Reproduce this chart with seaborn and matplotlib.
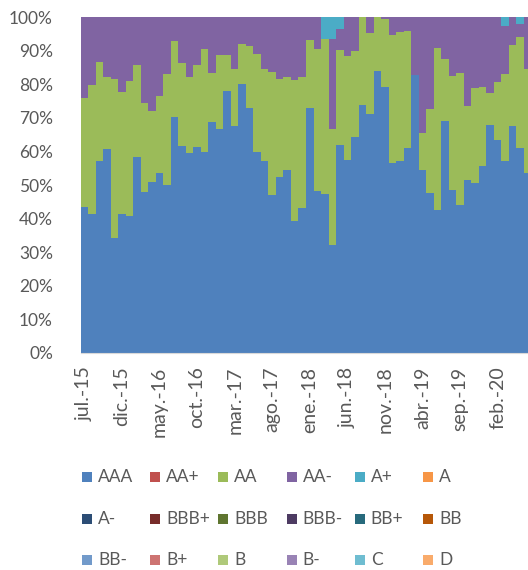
import numpy as np
import pandas as pd
import seaborn as sns
import matplotlib
matplotlib.use("Agg")
import matplotlib.pyplot as plt
from matplotlib.patches import Rectangle

# ---------------- data (percent of portfolio by rating) ----------------
month_names = ["ene.", "feb.", "mar.", "abr.", "may.", "jun.",
               "jul.", "ago.", "sep.", "oct.", "nov.", "dic."]
start_year, start_month, n_months = 2015, 7, 60
periods = []
for k in range(n_months):
    m = (start_month - 1 + k) % 12
    y = start_year + (start_month - 1 + k) // 12
    periods.append(f"{month_names[m]}-{y % 100:02d}")

AAA = [43.5, 41.5, 57.1, 60.8, 34.3, 41.5, 40.9, 58.4, 47.8, 50.8,
       53.5, 50.0, 70.2, 61.6, 59.6, 61.4, 59.9, 68.9, 66.6, 78.1,
       67.7, 80.1, 72.9, 59.9, 57.2, 47.0, 52.5, 54.5, 39.3, 43.2,
       73.1, 48.2, 47.2, 32.1, 61.9, 57.5, 64.4, 73.9, 71.1, 84.0,
       79.3, 56.5, 57.3, 61.1, 82.8, 54.5, 47.5, 42.5, 69.2, 48.5,
       44.0, 51.5, 50.7, 55.8, 67.9, 63.4, 57.3, 67.6, 61.1, 53.5]
AA = [32.3, 38.2, 29.7, 21.3, 47.2, 36.1, 40.2, 27.5, 26.6, 21.4,
      23.0, 33.1, 22.8, 24.7, 22.5, 24.4, 30.6, 14.6, 22.2, 10.7,
      16.9, 11.9, 18.6, 29.2, 27.4, 36.6, 29.1, 27.6, 42.0, 39.1,
      20.1, 42.3, 46.2, 34.5, 28.4, 31.1, 25.7, 26.1, 24.3, 16.0,
      20.1, 38.2, 38.4, 34.9, 0.0, 10.9, 25.1, 48.3, 18.3, 34.1,
      39.3, 22.2, 28.1, 23.3, 9.4, 17.2, 25.8, 24.1, 32.9, 31.1]
AA_minus = [24.2, 20.3, 13.2, 17.9, 18.5, 22.4, 18.9, 14.1, 25.6, 27.8,
            23.5, 16.9, 7.0, 13.7, 17.9, 14.2, 9.5, 16.5, 11.2, 11.2,
            15.4, 8.0, 8.5, 10.9, 15.4, 16.4, 18.4, 17.9, 18.7, 17.7,
            6.8, 9.5, 0.0, 26.8, 6.2, 11.4, 9.9, 0.0, 4.6, 0.0,
            0.6, 5.3, 4.3, 4.0, 17.2, 34.6, 27.4, 9.2, 12.5, 17.4,
            16.7, 26.3, 21.2, 20.9, 22.7, 19.4, 14.4, 8.3, 4.0, 15.4]
A_plus = [0.0] * 32 + [6.6, 6.6, 3.5] + [0.0] * 21 + [2.5, 0.0, 2.0, 0.0]

ratings = ["AAA", "AA+", "AA", "AA-", "A+", "A",
           "A-", "BBB+", "BBB", "BBB-", "BB+", "BB",
           "BB-", "B+", "B", "B-", "C", "D"]
colors = ["#4F81BD", "#C0504D", "#9BBB59", "#8064A2", "#4BACC6", "#F79646",
          "#2C4D75", "#772C2A", "#5F7530", "#4D3B62", "#276A7C", "#B65708",
          "#729ACA", "#CD7371", "#AFC97A", "#9983B5", "#6FBDD1", "#F9AB6B"]
y_ticks = list(range(0, 101, 10))

# ---------------- build table ----------------
zeros = [0.0] * n_months
series = {r: zeros for r in ratings}
series["AAA"] = AAA
series["AA"] = AA
series["AA-"] = AA_minus
series["A+"] = A_plus
df = pd.DataFrame(series)
df.insert(0, "mes", periods)
cum = df[ratings].cumsum(axis=1)

# ---------------- figure ----------------
sns.set_theme(style="white")
plt.rcParams["font.family"] = ["Lato", "DejaVu Sans"]
text_color = "#595959"

W, H = 528, 570
fig = plt.figure(figsize=(W / 100, H / 100), dpi=100)
left_px, right_px, top_px, bottom_px = 80.7, 528, 17.3, 352.7
ax = fig.add_axes([left_px / W, 1 - bottom_px / H,
                   (right_px - left_px) / W, (bottom_px - top_px) / H])

# draw cumulative totals from top to bottom so each layer shows its segment
for r, c in reversed(list(zip(ratings, colors))):
    if df[r].sum() == 0:
        continue
    sns.barplot(x=df["mes"], y=cum[r], color=c, saturation=1, width=1.0,
                errorbar=None, order=periods, ax=ax, linewidth=0, zorder=2)

ax.set_xlim(-0.5, 59.06)
ax.set_ylim(0, 100)
ax.set_yticks(y_ticks)
ax.set_yticklabels([f"{v}%" for v in y_ticks], color=text_color, fontsize=12.5)
ax.set_xticks(range(0, n_months, 5))
ax.set_xticklabels(periods[::5], rotation=90, color=text_color, fontsize=14)
ax.tick_params(axis="y", length=0, pad=20)
ax.tick_params(axis="x", length=0, pad=10)
ax.set_xlabel("")
ax.set_ylabel("")
ax.yaxis.grid(True, color="#D9D9D9", linewidth=0.8)
ax.set_axisbelow(True)
for s in ["left", "right", "top"]:
    ax.spines[s].set_visible(False)
ax.spines["bottom"].set_color("#D9D9D9")
ax.spines["bottom"].set_linewidth(0.8)

# ---------------- legend (Excel-like grid) ----------------
x0, dx = 82, 68.2
y0, dy = 477, 41.5
sq = 10
for i, (r, c) in enumerate(zip(ratings, colors)):
    col, row = i % 6, i // 6
    xp = x0 + col * dx
    yp = y0 + row * dy
    fig.patches.append(Rectangle((xp / W, 1 - (yp + sq / 2) / H), sq / W, sq / H,
                                 transform=fig.transFigure, facecolor=c,
                                 edgecolor="none"))
    fig.text((xp + sq + 6) / W, 1 - yp / H, r, color=text_color,
             fontsize=12.5, va="center", ha="left")

fig.savefig("out.png", dpi=100)
